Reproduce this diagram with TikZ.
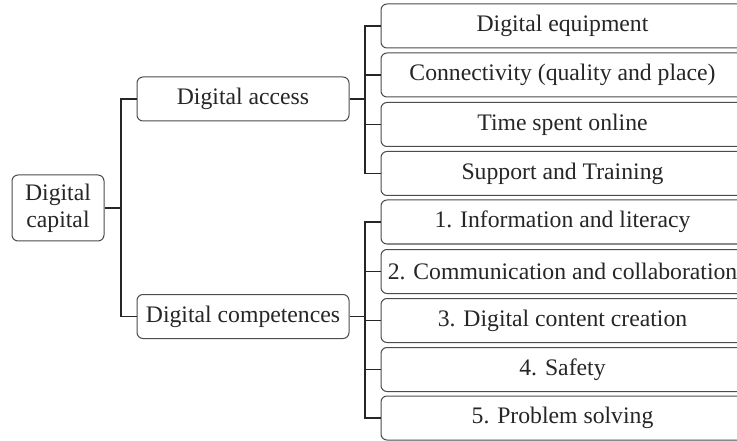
\documentclass[tikz,border=0pt]{standalone}
\usepackage{fontspec}
\setmainfont{Liberation Serif}
\begin{document}
\begin{tikzpicture}[x=1pt,y=-1pt,
  box/.style={draw=black!70, line width=1pt, rounded corners=6pt, inner sep=0pt, align=center,
    text=black!85, font=\fontsize{23.7}{27}\selectfont},
  leafbox/.style={box, minimum width=363pt, minimum height=44pt},
  midbox/.style={box, minimum width=212pt, minimum height=44pt},
  conn/.style={draw=black!85, line width=1.1pt}]
\useasboundingbox (0,0) rectangle (737,441);
\fill[white] (0,0) rectangle (737,441);
\node[box, minimum width=92pt, minimum height=66pt] (cap) at (58,208) {Digital\\capital};
\node[midbox] (acc) at (243,99) {Digital access};
\node[midbox] (comp) at (243,316.5) {Digital competences};
\node[leafbox] (a1) at (562.5,26) {Digital equipment};
\node[leafbox] (a2) at (562.5,75) {Connectivity (quality and place)};
\node[leafbox] (a3) at (562.5,124.5) {Time spent online};
\node[leafbox] (a4) at (562.5,173.5) {Support and Training};
\node[leafbox] (c1) at (562.5,222) {1. Information and literacy};
\node[leafbox] (c2) at (562.5,271.5) {2. Communication and collaboration};
\node[leafbox] (c3) at (562.5,320.5) {3. Digital content creation};
\node[leafbox] (c4) at (562.5,369.5) {4. Safety};
\node[leafbox] (c5) at (562.5,418) {5. Problem solving};
\coordinate (j0) at (121,208);
\coordinate (ja) at (365,99);
\coordinate (jc) at (365,316.5);
\draw[conn] (cap.east) -- (j0);
\draw[conn] (j0) |- (acc.west);
\draw[conn] (j0) |- (comp.west);
\draw[conn] (acc.east) -- (ja);
\foreach \n in {a1,a2,a3,a4} \draw[conn] (ja) |- (\n.west);
\draw[conn] (comp.east) -- (jc);
\foreach \n in {c1,c2,c3,c4,c5} \draw[conn] (jc) |- (\n.west);
\end{tikzpicture}
\end{document}
